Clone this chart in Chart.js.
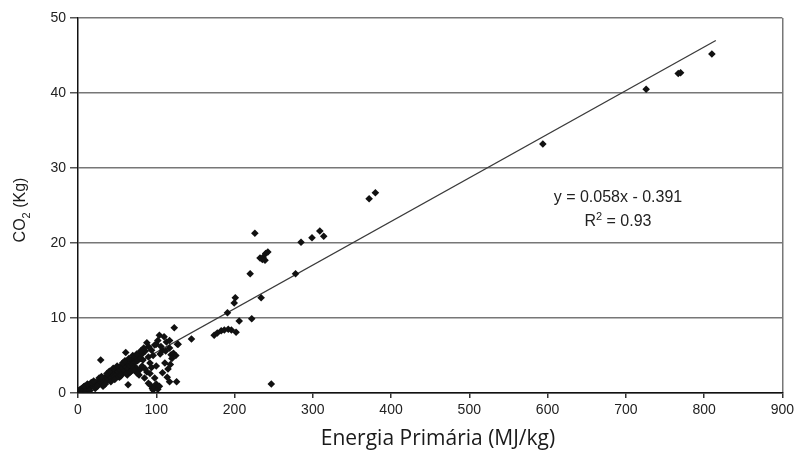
<!DOCTYPE html>
<html>
<head>
<meta charset="utf-8">
<script src="https://cdn.jsdelivr.net/npm/chart.js@4.4.1/dist/chart.umd.min.js"></script>
<style>
  html, body { margin: 0; padding: 0; background: #fff; }
</style>
</head>
<body>
<canvas id="co2Chart" width="798" height="450"></canvas>
<script>
// Energia primaria (MJ/kg) x CO2 (kg)
const energia = [
  0.5, 1, 2, 3, 4, 5, 6, 7, 8, 9, 10, 11, 12, 13, 14, 15, 16, 17, 18, 19,
  20, 21, 22, 23, 24, 25, 26, 27, 28, 29, 29, 30, 31, 32, 33, 34, 35, 36, 37, 38,
  39, 40, 41, 42, 43, 44, 45, 46, 47, 48, 49, 50, 51, 52, 53, 54, 55, 56, 57, 59,
  60, 61, 61, 62, 63, 64, 64, 65, 66, 67, 68, 69, 70, 71, 72, 73, 74, 75, 76, 77,
  78, 79, 80, 82, 83, 85, 86, 88, 88, 90, 90, 92, 92, 94, 95, 96, 98, 98, 98, 100,
  100, 102, 102, 104, 104, 105, 108, 108, 110, 111, 113, 114, 115, 117, 117, 117, 119, 120, 122, 123,
  125, 126, 127, 128, 145,
  5, 8, 10, 12, 15, 17, 20, 22, 25, 27, 30, 32, 35, 37, 40, 42, 45, 47, 50, 52,
  55, 57, 60, 62, 65, 67, 70, 72, 75, 76, 80, 82, 84, 86, 90, 92, 94, 96, 100, 106,
  112, 118,
  174, 178, 183, 187, 192, 196, 191, 199.6, 201, 202, 206, 220, 222, 226, 232.6, 236.4, 239.8, 242.6, 239, 235.6,
  234, 247, 278, 285, 299, 309, 314, 372, 380, 594, 726, 767, 770, 810
]
const co2 = [
  0.1, 0.3, 0.1, 0.5, 0.2, 0.6, 0.3, 0.8, 0.4, 0.9, 0.5, 1.0, 0.6, 0.8, 1.1, 0.7, 1.2, 0.9, 1.0, 1.3,
  0.8, 1.1, 1.4, 1.0, 1.2, 1.5, 1.1, 1.6, 1.3, 4.4, 1.8, 1.4, 1.2, 1.7, 2.0, 1.5, 1.9, 2.2, 1.6, 2.1,
  2.4, 1.8, 2.3, 2.6, 2.0, 2.8, 2.4, 3.0, 2.2, 2.7, 3.2, 2.5, 2.9, 3.4, 2.1, 3.1, 3.6, 2.6, 3.3, 3.8,
  3.0, 5.4, 3.5, 4.0, 2.4, 1.1, 3.2, 3.9, 4.2, 3.6, 2.9, 4.4, 3.8, 4.6, 3.4, 4.1, 4.8, 3.3, 4.3, 5.0,
  2.4, 3.1, 4.6, 5.2, 4.4, 2.0, 5.6, 2.8, 6.7, 4.8, 1.3, 4.0, 1.1, 5.7, 0.6, 0.4, 6.4, 2.0, 0.8, 3.6,
  1.2, 7.0, 0.5, 0.9, 7.7, 5.2, 2.7, 5.7, 7.5, 4.0, 6.8, 2.1, 3.2, 6.0, 1.5, 7.0, 5.1, 4.6, 5.3, 8.7,
  5.0, 1.5, 6.5, 6.5, 7.2,
  0.1, 0.9, 0.2, 1.2, 0.3, 1.4, 1.6, 0.6, 0.9, 2.0, 2.2, 0.9, 1.2, 2.6, 2.9, 1.5, 3.3, 1.8, 3.6, 2.2,
  2.3, 4.0, 4.3, 2.6, 4.6, 2.8, 5.0, 3.0, 5.2, 2.6, 5.6, 3.6, 6.0, 3.2, 6.2, 2.6, 3.4, 5.0, 6.5, 6.2,
  5.6, 3.8,
  7.7, 8.0, 8.3, 8.4, 8.5, 8.4, 10.7, 12.0, 12.7, 8.1, 9.6, 15.9, 9.9, 21.3, 18.0, 18.1, 18.6, 18.8, 17.7, 17.8,
  12.7, 1.2, 15.9, 20.1, 20.7, 21.6, 20.9, 25.9, 26.7, 33.2, 40.5, 42.6, 42.7, 45.2
]

// linha de tendencia (y = 0.058x - 0.391)
const trendX = [0, 815]
const trendY = [-0.39, 47.0]

const xTicks = [0, 100, 200, 300, 400, 500, 600, 700, 800, 900]
const yTicks = [0, 10, 20, 30, 40, 50]

const equacao = 'y = 0.058x - 0.391'
const r2Valor = ' = 0.93'

const pontos = energia.map((x, i) => ({ x: x, y: co2[i] }))
const reta = trendX.map((x, i) => ({ x: x, y: trendY[i] }))

const tickFont = { family: '"Liberation Sans", Arial, sans-serif', size: 14 }

// textos do grafico: equacao, R2 e titulos dos eixos
const textos = {
  id: 'textos',
  afterDraw (chart) {
    const { ctx, scales } = chart
    const sx = scales.x
    const sy = scales.y
    ctx.save()
    ctx.fillStyle = '#222'
    ctx.textBaseline = 'middle'

    // equacao
    const ex = sx.getPixelForValue(690)
    ctx.font = '16px "Liberation Sans", Arial, sans-serif'
    ctx.textAlign = 'center'
    ctx.fillText(equacao, ex, sy.getPixelForValue(26.1))

    // R2 com expoente
    ctx.textAlign = 'left'
    const base = '16px "Liberation Sans", Arial, sans-serif'
    const small = '11px "Liberation Sans", Arial, sans-serif'
    ctx.font = base
    const wR = ctx.measureText('R').width
    const wV = ctx.measureText(r2Valor).width
    ctx.font = small
    const w2 = ctx.measureText('2').width
    const ry = sy.getPixelForValue(22.8)
    const rx = ex - (wR + w2 + wV) / 2
    ctx.font = base
    ctx.fillText('R', rx, ry)
    ctx.font = small
    ctx.fillText('2', rx + wR, ry - 5)
    ctx.font = base
    ctx.fillText(r2Valor, rx + wR + w2, ry)

    // titulo do eixo x
    ctx.font = '21px "Open Sans", sans-serif'
    ctx.textAlign = 'center'
    ctx.fillStyle = '#1a1a1a'
    ctx.fillText('Energia Primária (MJ/kg)', sx.getPixelForValue(460), chart.height - 11)

    // titulo do eixo y (CO2 com indice)
    ctx.translate(21, sy.getPixelForValue(24.4))
    ctx.rotate(-Math.PI / 2)
    const tb = '16px "Liberation Sans", Arial, sans-serif'
    const ts = '11px "Liberation Sans", Arial, sans-serif'
    ctx.font = tb
    const wCO = ctx.measureText('CO').width
    const wKg = ctx.measureText(' (Kg)').width
    ctx.font = ts
    const wSub = ctx.measureText('2').width
    const tx = -(wCO + wSub + wKg) / 2
    ctx.textAlign = 'left'
    ctx.font = tb
    ctx.fillText('CO', tx, 0)
    ctx.font = ts
    ctx.fillText('2', tx + wCO, 6)
    ctx.font = tb
    ctx.fillText(' (Kg)', tx + wCO + wSub, 0)
    ctx.restore()
  }
}

const ctx = document.getElementById('co2Chart')
const myChart = new Chart(ctx, {
  type: 'scatter',
  data: {
    datasets: [{
      label: 'CO2',
      data: pontos,
      pointStyle: 'rectRot',
      pointRadius: 3.8,
      pointHoverRadius: 3.8,
      backgroundColor: '#111',
      borderColor: '#111',
      borderWidth: 0
    }, {
      type: 'line',
      label: 'tendencia',
      data: reta,
      borderColor: '#3a3a3a',
      borderWidth: 1.3,
      pointRadius: 0,
      fill: false
    }]
  },
  options: {
    responsive: false,
    devicePixelRatio: 1,
    animation: false,
    layout: { padding: { top: 18, right: 14, left: 0, bottom: 0 } },
    plugins: {
      legend: { display: false },
      tooltip: { enabled: false }
    },
    scales: {
      x: {
        type: 'linear',
        min: 0,
        max: 900,
        afterBuildTicks: (scale) => { scale.ticks = xTicks.map(v => ({ value: v })) },
        afterFit: (scale) => { scale.height = 57 },
        ticks: { font: tickFont, color: '#222', padding: 4, maxRotation: 0 },
        grid: {
          drawOnChartArea: true,
          color: (c) => (c.tick && c.tick.value === 900 ? '#777' : 'rgba(0,0,0,0)'),
          lineWidth: 1.5,
          tickColor: '#333',
          tickLength: 5
        },
        border: { display: true, color: '#111', width: 1.5 }
      },
      y: {
        min: 0,
        max: 50,
        afterBuildTicks: (scale) => { scale.ticks = yTicks.map(v => ({ value: v })) },
        afterFit: (scale) => { scale.width = 78 },
        ticks: { font: tickFont, color: '#222', padding: 4 },
        grid: {
          color: '#777',
          lineWidth: 1.5,
          tickColor: '#555',
          tickLength: 8
        },
        border: { display: true, color: '#111', width: 1.5 }
      }
    }
  },
  plugins: [textos]
})
</script>
</body>
</html>
